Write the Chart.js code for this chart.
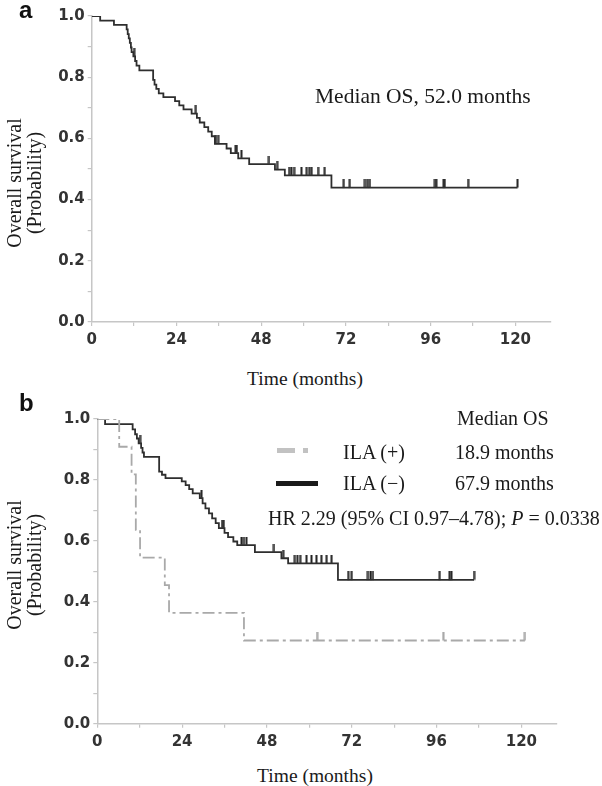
<!DOCTYPE html>
<html>
<head>
<meta charset="utf-8">
<title>Overall survival</title>
<script src="https://cdn.jsdelivr.net/npm/chart.js@4.4.1/dist/chart.umd.min.js"></script>
<style>
  html, body { margin: 0; padding: 0; background: #fff; }
  #wrap { position: relative; width: 602px; height: 786px; overflow: hidden; background: #fff; }
  .panel { position: absolute; left: 0; width: 602px; height: 362px; }
  .panel canvas { display: block; }
  .t { position: absolute; white-space: nowrap; font-family: 'Liberation Serif', 'Times New Roman', serif;
       font-size: 20px; line-height: 20px; color: #1a1a1a; }
  .letter { position: absolute; font-family: 'Liberation Sans', Arial, sans-serif; font-weight: bold;
            font-size: 24px; line-height: 24px; color: #111; }
  .ytitle { position: absolute; text-align: center; white-space: nowrap; font-family: 'Liberation Serif', serif;
            font-size: 20px; line-height: 20px; color: #1a1a1a; transform: translate(-50%, -50%) rotate(-90deg); }
  .xtitle { transform: translateX(-50%); font-size: 19.5px; }
  .swatch { position: absolute; height: 4.5px; }
</style>
</head>
<body>
<div id="wrap">
  <div class="panel" style="top:0"><canvas id="chA" width="602" height="362"></canvas></div>
  <div class="panel" style="top:400px"><canvas id="chB" width="602" height="362"></canvas></div>

  <div class="letter" style="left:19px; top:-2px">a</div>
  <div class="ytitle" style="left:24px; top:183px">Overall survival<br>(Probability)</div>
  <div class="t xtitle" style="left:305px; top:369px">Time (months)</div>
  <div class="t" style="left:315px; top:86px; font-size:21.5px; line-height:21.5px">Median OS, 52.0 months</div>

  <div class="letter" style="left:19px; top:391px">b</div>
  <div class="ytitle" style="left:24px; top:565px">Overall survival<br>(Probability)</div>
  <div class="t xtitle" style="left:315px; top:766px">Time (months)</div>
  <div class="t" style="left:457px; top:408px">Median OS</div>
  <div class="swatch" style="left:277px; top:448px; width:18px; background:#c2c2c2"></div>
  <div class="swatch" style="left:303px; top:448px; width:5px; background:#c2c2c2"></div>
  <div class="t" style="left:343px; top:442px">ILA (+)</div>
  <div class="t" style="left:455px; top:442px">18.9 months</div>
  <div class="swatch" style="left:276px; top:481px; width:42px; background:#1a1a1a"></div>
  <div class="t" style="left:343px; top:473px">ILA (−)</div>
  <div class="t" style="left:455px; top:473px">67.9 months</div>
  <div class="t" style="left:268px; top:508px">HR 2.29 (95% CI 0.97–4.78); <i>P</i> = 0.0338</div>
</div>

<script>
// ---------- data ----------
// panel a: whole cohort
const aEventT = [2.4, 6.3, 9.9, 10.2, 10.5, 10.8, 11.1, 11.3, 11.8, 12.3, 12.7, 13.5, 17.4, 17.8, 18.3, 19.0, 20.3,
  23.6, 24.8, 26.0, 28.3, 29.8, 30.6, 31.9, 33.0, 34.0, 34.9, 38.2, 39.4, 41.5, 44.6, 51.9, 54.7, 67.9];
const aEventS = [0.985, 0.971, 0.956, 0.941, 0.927, 0.912, 0.897, 0.882, 0.868, 0.853, 0.838, 0.822, 0.791, 0.776,
  0.762, 0.747, 0.735, 0.722, 0.708, 0.695, 0.681, 0.667, 0.652, 0.637, 0.622, 0.607, 0.582, 0.567, 0.552, 0.535,
  0.516, 0.498, 0.479, 0.439];
const aCensorT = [12.0, 29.5, 35.2, 35.8, 40.8, 41.1, 42.4, 50.2, 52.5, 55.9, 56.6, 57.3, 59.4, 60.9, 61.6, 62.3,
  64.1, 66.0, 71.4, 73.1, 77.4, 78.0, 78.8, 97.2, 97.6, 99.7, 100.0, 106.6, 120.6];

// panel b: ILA (-)
const negEventT = [2.2, 10.0, 10.7, 11.2, 11.7, 12.4, 12.8, 13.2, 17.5, 18.3, 19.3, 23.9, 25.0, 26.0, 27.0, 29.0,
  29.8, 30.6, 31.6, 32.5, 33.5, 34.4, 36.0, 37.0, 38.5, 39.6, 44.6, 52.1, 54.0, 68.1];
const negEventS = [0.983, 0.966, 0.950, 0.936, 0.920, 0.905, 0.890, 0.876, 0.827, 0.817, 0.806, 0.795, 0.783, 0.770,
  0.756, 0.740, 0.723, 0.707, 0.690, 0.674, 0.658, 0.642, 0.626, 0.612, 0.598, 0.586, 0.563, 0.543, 0.526, 0.472];
const negCensorT = [12.1, 29.5, 35.3, 35.8, 40.8, 41.5, 42.2, 50.0, 52.6, 55.9, 56.6, 57.4, 59.2, 60.6, 62.0, 63.4,
  64.9, 66.3, 71.0, 72.0, 76.6, 77.3, 78.0, 96.9, 99.7, 100.2, 106.6];

// panel b: ILA (+)
const posEventT = [6.2, 9.7, 10.9, 12.1, 19.1, 20.3, 41.5];
const posEventS = [0.909, 0.818, 0.636, 0.545, 0.455, 0.364, 0.273];
const posCensorT = [62.2, 97.9, 121.0];

// axes
const X_MAX = 130;
const X_STEP = 12;       // minor ticks, labels every 24
const Y_STEP = 0.1;      // minor ticks, labels every 0.2

// ---------- helpers ----------
Chart.defaults.font.family = "'DejaVu Sans', Verdana, sans-serif";

function survAt(eventT, eventS, t) {
  let s = 1;
  for (let i = 0; i < eventT.length; i++) if (eventT[i] <= t) s = eventS[i];
  return s;
}

function curve(eventT, eventS, censorT) {
  const pts = [{ x: 0, y: 1 }];
  eventT.forEach((t, i) => pts.push({ x: t, y: eventS[i] }));
  const end = censorT[censorT.length - 1];
  if (end > eventT[eventT.length - 1]) pts.push({ x: end, y: eventS[eventS.length - 1] });
  return pts;
}

function censors(eventT, eventS, censorT) {
  return censorT.map((t) => ({ x: t, y: survAt(eventT, eventS, t) }));
}

// censor mark: a short upward tick sitting on the curve
function tickMark(color) {
  const c = document.createElement('canvas');
  c.width = 3;
  c.height = 17;
  const g = c.getContext('2d');
  g.fillStyle = color;
  g.fillRect(0.5, 0, 2, 8.5);
  return c;
}

function kmChart(id, box, datasets) {
  const axisColor = '#c6c6c6';
  return new Chart(document.getElementById(id), {
    type: 'line',
    data: { datasets },
    options: {
      responsive: false,
      animation: false,
      events: [],
      layout: { padding: { top: box.top, right: box.right, left: 0, bottom: 0 } },
      plugins: { legend: { display: false }, tooltip: { enabled: false } },
      scales: {
        x: {
          type: 'linear',
          min: 0,
          max: X_MAX,
          afterFit: (s) => { s.height = box.xh; },
          border: { color: axisColor, width: 1.5 },
          grid: { drawOnChartArea: false, drawTicks: true, tickLength: 4, color: axisColor, lineWidth: 1.2 },
          ticks: {
            stepSize: X_STEP,
            includeBounds: false,
            autoSkip: false,
            maxRotation: 0,
            padding: 5,
            color: '#333',
            font: { size: 15, weight: 'bold' },
            callback: (v) => (v % 24 === 0 ? String(v) : ''),
          },
        },
        y: {
          min: 0,
          max: 1,
          afterFit: (s) => { s.width = box.yw; },
          border: { color: axisColor, width: 1.5 },
          grid: { drawOnChartArea: false, drawTicks: true, tickLength: 4, color: axisColor, lineWidth: 1.2 },
          ticks: {
            stepSize: Y_STEP,
            autoSkip: false,
            padding: 3,
            color: '#333',
            font: { size: 15, weight: 'bold' },
            callback: (v) => (Math.round(v * 10) % 2 === 0 ? v.toFixed(1) : ''),
          },
        },
      },
    },
  });
}

function stepLine(data, color, dash) {
  return {
    data,
    borderColor: color,
    borderWidth: 1.8,
    borderDash: dash || [],
    stepped: 'before',
    pointRadius: 0,
    fill: false,
  };
}

function censorSet(data, color) {
  return {
    type: 'scatter',
    data,
    pointStyle: tickMark(color),
    pointRadius: 4,
    showLine: false,
  };
}

// ---------- panel a ----------
kmChart('chA', { top: 16, right: 51.3, yw: 91.7, xh: 40 }, [
  stepLine(curve(aEventT, aEventS, aCensorT), '#2e2e2e'),
  censorSet(censors(aEventT, aEventS, aCensorT), '#222'),
]);

// ---------- panel b ----------
kmChart('chB', { top: 19, right: 45.3, yw: 97.3, xh: 38.3 }, [
  stepLine(curve(posEventT, posEventS, posCensorT), '#a9a9a9', [12, 4, 3, 4]),
  censorSet(censors(posEventT, posEventS, posCensorT), '#a0a0a0'),
  stepLine(curve(negEventT, negEventS, negCensorT), '#2e2e2e'),
  censorSet(censors(negEventT, negEventS, negCensorT), '#222'),
]);
</script>
</body>
</html>
